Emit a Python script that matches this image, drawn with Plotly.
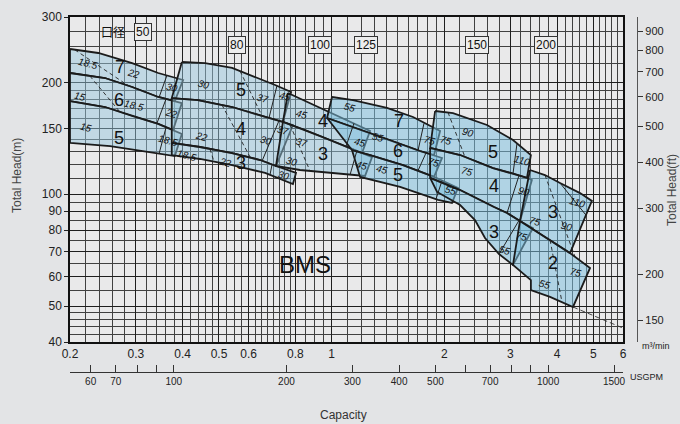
import numpy as np
import plotly.graph_objects as go

# ---------------- axis values ----------------
x_tick_vals = [0.2, 0.3, 0.4, 0.5, 0.6, 0.8, 1, 2, 3, 4, 5, 6]
x_tick_text = ["0.2", "0.3", "0.4", "0.5", "0.6", "0.8", "1", "2", "3", "4", "5", "6"]
x_minor_vals = [0.22, 0.24, 0.26, 0.28, 0.32, 0.34, 0.36, 0.38, 0.42, 0.44, 0.46, 0.48,
                0.525, 0.55, 0.575, 0.625, 0.65, 0.675, 0.7, 0.725, 0.75, 0.775,
                0.85, 0.9, 0.95, 1.1, 1.2, 1.3, 1.4, 1.5, 1.6, 1.7, 1.8, 1.9,
                2.2, 2.4, 2.6, 2.8, 3.2, 3.4, 3.6, 3.8, 4.2, 4.4, 4.6, 4.8,
                5.2, 5.4, 5.6, 5.8]
y_tick_vals = [40, 50, 60, 70, 80, 90, 100, 150, 200, 300]
y_minor_vals = [42, 44, 46, 48, 55, 65, 75, 85, 95, 110, 120, 130, 140,
                160, 170, 180, 190, 225, 250, 275]
ft_tick_vals = [150, 200, 300, 400, 500, 600, 700, 800, 900]
gpm_tick_vals = [60, 70, 80, 90, 100, 200, 300, 400, 500, 600, 700, 800, 900, 1000, 1500]
gpm_tick_text = ["60", "70", "", "", "100", "200", "300", "400", "500", "", "700", "", "", "1000", "1500"]

Q_MIN, Q_MAX = 0.2, 6.0          # m3/min
H_MIN, H_MAX = 40.0, 300.0       # m
M3MIN_PER_USGPM = 0.003785411784
FT_PER_M = 3.28084

# ---------------- pump bands (outline: Q m3/min, H m) ----------------
p50_b7_q = [0.200, 0.238, 0.293, 0.344, 0.401, 0.381, 0.344, 0.293, 0.248, 0.200]
p50_b7_h = [246.0, 240.0, 225.5, 212.0, 203.0, 178.2, 182.7, 194.4, 205.5, 212.0]
p50_b6_q = [0.200, 0.248, 0.293, 0.344, 0.398, 0.377, 0.344, 0.293, 0.248, 0.200]
p50_b6_h = [212.0, 205.5, 194.4, 182.7, 176.0, 148.9, 154.6, 162.4, 171.7, 178.2]
p50_b5_q = [0.200, 0.248, 0.293, 0.344, 0.398, 0.381, 0.313, 0.256, 0.200]
p50_b5_h = [178.2, 171.7, 162.4, 154.6, 145.3, 126.7, 130.7, 134.8, 137.4]

p80_b5_q = [0.398, 0.459, 0.542, 0.636, 0.706, 0.779, 0.741, 0.664, 0.542, 0.439, 0.374]
p80_b5_h = [227.0, 225.5, 218.7, 205.5, 196.8, 188.4, 156.5, 161.4, 171.7, 179.3, 181.5]
p80_b4_q = [0.374, 0.439, 0.542, 0.664, 0.741, 0.788, 0.710, 0.644, 0.542, 0.445, 0.374]
p80_b4_h = [181.5, 179.3, 171.7, 161.4, 156.5, 153.6, 119.1, 123.6, 129.1, 134.0, 137.4]
p80_b3_q = [0.374, 0.445, 0.542, 0.644, 0.710, 0.803, 0.788, 0.664, 0.542, 0.445, 0.374]
p80_b3_h = [137.4, 134.0, 129.1, 123.6, 119.1, 114.1, 106.5, 114.1, 119.8, 124.4, 127.5]

p100_b4_q = [0.764, 0.849, 0.943, 1.086, 1.266, 1.205, 1.086, 0.943, 0.849, 0.741]
p100_b4_h = [187.3, 178.2, 169.6, 159.4, 148.0, 129.1, 134.8, 142.6, 148.9, 156.5]
p100_b3_q = [0.741, 0.849, 0.943, 1.086, 1.205, 1.282, 1.228, 0.990, 0.823, 0.710]
p100_b3_h = [156.5, 148.9, 142.6, 134.8, 129.1, 125.9, 112.0, 114.1, 116.2, 119.1]

p125_b7_q = [1.002, 1.140, 1.405, 1.649, 1.948, 1.877, 1.722, 1.405, 1.169, 0.972]
p125_b7_h = [182.7, 179.3, 170.7, 161.4, 148.0, 127.5, 130.7, 140.8, 149.9, 160.4]
p125_b6_q = [0.972, 1.169, 1.405, 1.722, 1.877, 1.971, 1.877, 1.550, 1.266, 1.133]
p125_b6_h = [160.4, 149.9, 140.8, 130.7, 127.5, 125.2, 111.3, 119.8, 127.5, 131.5]
p125_b5_q = [1.133, 1.266, 1.550, 1.877, 2.174, 2.096, 1.924, 1.523, 1.191]
p125_b5_h = [131.5, 127.5, 119.8, 111.3, 103.9, 94.7, 96.5, 104.6, 111.3]

p150_b5_q = [1.889, 2.109, 2.599, 3.050, 3.405, 3.324, 3.013, 2.697, 2.203, 1.832]
p150_b5_h = [167.5, 165.4, 153.6, 139.9, 127.5, 110.6, 114.1, 117.6, 127.5, 133.2]
p150_b4_q = [1.832, 2.203, 2.697, 3.013, 3.324, 3.426, 3.184, 2.940, 2.714, 2.203, 1.832]
p150_b4_h = [133.2, 127.5, 117.6, 114.1, 110.6, 109.2, 84.7, 89.0, 92.4, 102.6, 110.6]
p150_b3_q = [1.832, 2.203, 2.714, 2.940, 3.184, 3.448, 3.050, 2.799, 2.568, 2.414, 2.203, 1.912]
p150_b3_h = [110.6, 102.6, 92.4, 89.0, 84.7, 81.1, 64.5, 69.0, 76.2, 85.2, 93.5, 101.4]

p200_b3_q = [3.386, 3.713, 4.073, 4.607, 4.955, 4.332, 3.900, 3.184]
p200_b3_h = [116.2, 112.6, 107.2, 100.7, 95.9, 69.4, 74.4, 84.7]
p200_b2_q = [3.184, 3.900, 4.332, 4.899, 4.412, 3.830, 3.405, 3.405, 3.050]
p200_b2_h = [84.7, 74.4, 69.4, 63.3, 49.7, 52.9, 55.2, 58.7, 64.5]

# motor kW boundaries (dashed) and label boxes (solid)
kw_dash_q = [[0.206, 0.286], [0.226, 0.272], [0.569, 0.652], [0.509, 0.605], [0.473, 0.485],
             [0.774, 0.876], [2.045, 2.270], [3.713, 4.466], [3.830, 4.122]]
kw_dash_h = [[244.8, 196.1], [208.1, 166.5], [214.7, 162.3], [174.0, 126.1], [132.3, 122.4],
             [153.8, 115.3], [166.1, 125.9], [112.6, 67.9], [75.3, 51.3]]
box_q = [[0.363, 0.346], [0.361, 0.341], [0.361, 0.346], [0.714, 0.680], [0.723, 0.652],
         [0.693, 0.684], [1.147, 1.092], [1.169, 1.120], [1.764, 1.701], [1.786, 1.701],
         [1.971, 1.899], [3.127, 3.050], [3.165, 2.940], [3.165, 2.799], [4.073, 4.776]]
box_h = [[208.8, 182.5], [180.4, 154.8], [151.2, 128.7], [195.7, 160.3], [157.6, 123.0],
         [120.2, 112.6], [155.2, 134.5], [131.4, 112.9], [155.1, 131.2], [129.1, 115.8],
         [108.8, 96.9], [137.2, 113.6], [112.3, 89.0], [85.0, 69.0], [107.2, 87.9]]
limit_q = [4.412, 6.0]
limit_h = [49.7, 43.6]

# stage-number labels
stage_txt = ["7", "6", "5", "5", "4", "3", "4", "3", "7", "6", "5", "5", "4", "3", "3", "2"]
stage_q = [0.272, 0.270, 0.270, 0.573, 0.573, 0.573, 0.948, 0.948, 1.512, 1.503, 1.503,
           2.697, 2.714, 2.714, 3.900, 3.900]
stage_h = [220.0, 179.3, 141.7, 190.8, 149.9, 121.3, 157.5, 128.3, 157.5, 130.7, 112.6,
           129.9, 105.2, 79.1, 89.5, 65.3]

# motor kW labels
kw_txt = ["18.5", "22", "30", "15", "18.5", "22", "15", "18.5",
          "30", "37", "45", "22", "30", "37", "18.5", "22", "30",
          "45", "45", "37", "30", "45",
          "55", "75", "55", "75", "45", "55",
          "75", "90", "110", "75", "90", "55", "75",
          "75", "90", "110", "55", "75"]
kw_q = [0.223, 0.295, 0.374, 0.213, 0.297, 0.374, 0.221, 0.365,
        0.456, 0.656, 0.750, 0.448, 0.668, 0.741, 0.410, 0.522, 0.745,
        0.833, 1.191, 0.833, 0.783, 1.205,
        1.120, 1.832, 1.330, 1.877, 1.362, 2.083,
        2.020, 2.312, 3.223, 2.298, 3.263, 2.904, 3.223,
        3.490, 4.252, 4.520, 3.713, 4.494]
kw_h = [224.2, 210.7, 193.2, 182.7, 172.8, 165.4, 150.8, 139.1,
        198.0, 181.5, 182.7, 142.6, 139.1, 148.0, 127.5, 122.1, 112.6,
        164.4, 137.4, 138.2, 122.8, 119.8,
        171.7, 139.9, 141.7, 122.1, 116.2, 102.6,
        139.1, 146.2, 123.6, 114.8, 101.4, 70.7, 77.1,
        84.2, 82.1, 94.7, 57.3, 61.7]

# pump bore labels
bore_txt = ["50", "80", "100", "125", "150", "200"]
bore_q = [0.313, 0.558, 0.931, 1.235, 2.444, 3.736]
bore_h = [273.4, 252.2, 252.2, 252.2, 252.2, 252.2]

# ---------------- figure ----------------
FONT = "Liberation Sans Narrow, Arial Narrow, Liberation Sans, Arial, sans-serif"
LIGHT = "rgba(150,198,222,0.48)"
DEEP = "rgba(125,192,222,0.52)"
EDGE = "#1b1b1b"

# plot area in pixels: left 70, right 637 (x axis ends at 623), top 17, bottom 372
W, H = 680, 424
ML, MR, MT, MB = 70, 43, 17, 52
PW, PH = W - ML - MR, H - MT - MB


def px(xp):
    return (xp - ML) / PW


def py(yp):
    return (H - MB - yp) / PH


bands = [
    (p50_b7_q, p50_b7_h, LIGHT), (p50_b6_q, p50_b6_h, LIGHT), (p50_b5_q, p50_b5_h, LIGHT),
    (p80_b5_q, p80_b5_h, LIGHT), (p80_b4_q, p80_b4_h, LIGHT), (p80_b3_q, p80_b3_h, LIGHT),
    (p100_b4_q, p100_b4_h, LIGHT), (p100_b3_q, p100_b3_h, LIGHT),
    (p125_b7_q, p125_b7_h, DEEP), (p125_b6_q, p125_b6_h, DEEP), (p125_b5_q, p125_b5_h, DEEP),
    (p150_b5_q, p150_b5_h, DEEP), (p150_b4_q, p150_b4_h, DEEP), (p150_b3_q, p150_b3_h, DEEP),
    (p200_b3_q, p200_b3_h, DEEP), (p200_b2_q, p200_b2_h, DEEP),
]

fig = go.Figure()
for q, h, col in bands:
    fig.add_trace(go.Scatter(x=q + [q[0]], y=h + [h[0]], mode="lines", fill="toself",
                             fillcolor=col, line=dict(color=EDGE, width=1.8),
                             hoverinfo="skip", showlegend=False))
for q, h in zip(kw_dash_q, kw_dash_h):
    fig.add_trace(go.Scatter(x=q, y=h, mode="lines", line=dict(color="#222", width=0.9, dash="4px,3px"),
                             hoverinfo="skip", showlegend=False))
for q, h in zip(box_q, box_h):
    fig.add_trace(go.Scatter(x=q, y=h, mode="lines", line=dict(color="#222", width=1.0),
                             hoverinfo="skip", showlegend=False))
fig.add_trace(go.Scatter(x=limit_q, y=limit_h, mode="lines",
                         line=dict(color="#333", width=0.9, dash="5px,3px"),
                         hoverinfo="skip", showlegend=False))

# secondary scales (USGPM, ft) carry an invisible point so they are drawn
fig.add_trace(go.Scatter(x=[100], y=[300], xaxis="x2", yaxis="y2", mode="markers",
                         marker=dict(opacity=0), hoverinfo="skip", showlegend=False))

ann = []
for t, q, h in zip(stage_txt, stage_q, stage_h):
    ann.append(dict(x=np.log10(q), y=np.log10(h), xref="x", yref="y", text=t, showarrow=False,
                    font=dict(size=18, color="#111", family=FONT)))
for t, q, h in zip(kw_txt, kw_q, kw_h):
    ann.append(dict(x=np.log10(q), y=np.log10(h), xref="x", yref="y", text="<i>" + t + "</i>",
                    showarrow=False, textangle=15, font=dict(size=10, color="#111", family=FONT)))
for t, q, h in zip(bore_txt, bore_q, bore_h):
    ann.append(dict(x=np.log10(q), y=np.log10(h), xref="x", yref="y", text=t, showarrow=False,
                    font=dict(size=12, color="#111", family=FONT), bgcolor="#ededed",
                    bordercolor="#333", borderwidth=1, borderpad=1))
ann.append(dict(x=np.log10(0.261), y=np.log10(273.4), xref="x", yref="y", text="口径",
                showarrow=False, font=dict(size=12, color="#111", family="Noto Sans CJK JP")))
ann.append(dict(x=np.log10(0.849), y=np.log10(64.5), xref="x", yref="y", text="BMS",
                showarrow=False, font=dict(size=24, color="#111", family="Liberation Sans, Arial")))
ann.append(dict(x=px(640), y=py(353), xref="paper", yref="paper", xanchor="left",
                text="m³/min", showarrow=False, font=dict(size=9, color="#222", family=FONT)))
ann.append(dict(x=px(628), y=py(384), xref="paper", yref="paper", xanchor="left",
                text="USGPM", showarrow=False, font=dict(size=9, color="#222", family=FONT)))
ann.append(dict(x=px(17), y=py(176), xref="paper", yref="paper", xanchor="center", yanchor="middle",
                text="Total Head(m)", showarrow=False, textangle=-90,
                font=dict(size=12, color="#444", family="Liberation Sans, Arial")))
ann.append(dict(x=px(672), y=py(190), xref="paper", yref="paper", xanchor="center", yanchor="middle",
                text="Total Head(ft)", showarrow=False, textangle=-90,
                font=dict(size=12, color="#444", family="Liberation Sans, Arial")))
ann.append(dict(x=px(343), y=py(415), xref="paper", yref="paper", xanchor="center", yanchor="middle",
                text="Capacity", showarrow=False,
                font=dict(size=12, color="#333", family="Liberation Sans, Arial")))

dom_x = [0, 553 / PW]
dom_y = [30 / PH, 1]
tick_font = dict(size=12, color="#222", family=FONT)

fig.update_layout(
    width=W, height=H,
    margin=dict(l=ML, r=MR, t=MT, b=MB, autoexpand=False),
    paper_bgcolor="#e3e4e6", plot_bgcolor="#e9e9ea",
    showlegend=False,
    annotations=ann,
    xaxis=dict(type="log", range=[np.log10(Q_MIN), np.log10(Q_MAX)], domain=dom_x, anchor="y",
               tickmode="array", tickvals=x_tick_vals, ticktext=x_tick_text, ticks="",
               showgrid=True, gridcolor="#1e1e1e", gridwidth=1.2, automargin=False,
               minor=dict(tickmode="array", tickvals=x_minor_vals, showgrid=True,
                          gridcolor="#404040", gridwidth=0.8, ticks=""),
               showline=True, linecolor="#111", linewidth=1.5, mirror=True, zeroline=False,
               tickfont=tick_font),
    yaxis=dict(type="log", range=[np.log10(H_MIN), np.log10(H_MAX)], domain=dom_y, anchor="x",
               tickmode="array", tickvals=y_tick_vals, ticktext=[str(v) for v in y_tick_vals],
               ticks="outside", ticklen=4, tickcolor="#222", automargin=False,
               showgrid=True, gridcolor="#1e1e1e", gridwidth=1.2,
               minor=dict(tickmode="array", tickvals=y_minor_vals, showgrid=True,
                          gridcolor="#404040", gridwidth=0.8, ticks=""),
               showline=True, linecolor="#111", linewidth=1.5, mirror=True, zeroline=False,
               tickfont=tick_font),
    xaxis2=dict(type="log", overlaying="x", anchor="free", position=0, domain=dom_x, side="bottom",
                range=[np.log10(Q_MIN / M3MIN_PER_USGPM), np.log10(Q_MAX / M3MIN_PER_USGPM)],
                tickmode="array", tickvals=gpm_tick_vals, ticktext=gpm_tick_text,
                ticks="inside", ticklen=7, tickcolor="#333", showgrid=False, zeroline=False,
                showline=True, linecolor="#333", linewidth=1, automargin=False,
                tickfont=dict(size=10, color="#222", family=FONT)),
    yaxis2=dict(type="log", overlaying="y", anchor="free", position=1, side="right", domain=dom_y,
                range=[np.log10(H_MIN * FT_PER_M), np.log10(H_MAX * FT_PER_M)],
                tickmode="array", tickvals=ft_tick_vals, ticktext=[str(v) for v in ft_tick_vals],
                ticks="outside", ticklen=5, tickcolor="#333", showgrid=False, zeroline=False,
                showline=True, linecolor="#555", linewidth=1.2, automargin=False,
                tickfont=dict(size=11, color="#222", family=FONT)),
)

fig.write_html("out.html", config={"displayModeBar": False},
               post_script="document.body.style.margin='0';document.body.style.background='#e3e4e6';")
